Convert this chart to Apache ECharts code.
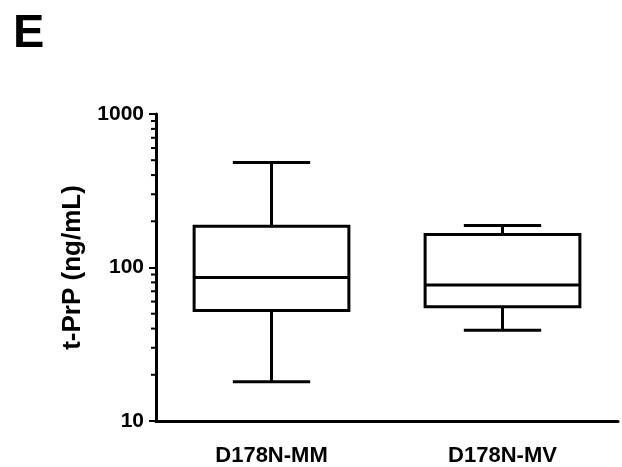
<!DOCTYPE html>
<html>
<head>
<meta charset="utf-8">
<script src="https://cdn.jsdelivr.net/npm/echarts@6/dist/echarts.min.js"></script>
<style>
  html, body { margin: 0; padding: 0; background: #fff; }
  #chart { width: 622px; height: 467px; }
</style>
</head>
<body>
<div id="chart"></div>
<script>
// 分组
const categories = ['D178N-MM', 'D178N-MV']
// 箱线图数值: [min, Q1, median, Q3, max]
const boxMin = [18, 39]
const boxQ1 = [52.5, 55.5]
const boxMedian = [86, 77]
const boxQ3 = [186, 164]
const boxMax = [484, 188]
// 对数轴次刻度
const minorTicks = [20, 30, 40, 50, 60, 70, 80, 90, 200, 300, 400, 500, 600, 700, 800, 900]

const boxData = categories.map((c, i) => [i, boxMin[i], boxQ1[i], boxMedian[i], boxQ3[i], boxMax[i]])

const chart = echarts.init(document.getElementById('chart'))
const LW = 3
const lineStyle = { stroke: '#000', lineWidth: LW, fill: null }

chart.setOption({
  animation: false,
  title: {
    text: 'E',
    left: 8,
    top: 6,
    textStyle: { fontFamily: 'Liberation Sans', fontSize: 47, fontWeight: 'bold', color: '#000' }
  },
  grid: { left: 156, right: 4, top: 114, bottom: 46 },
  xAxis: {
    type: 'category',
    data: categories,
    axisLine: { lineStyle: { color: '#000', width: LW } },
    axisTick: { alignWithLabel: true, length: 6, lineStyle: { color: '#000', width: 2 } },
    axisLabel: {
      margin: 24,
      color: '#000',
      fontFamily: 'Liberation Sans',
      fontWeight: 'bold',
      fontSize: 22
    },
    splitLine: { show: false }
  },
  yAxis: {
    type: 'log',
    logBase: 10,
    min: 10,
    max: 1000,
    name: 't-PrP (ng/mL)',
    nameLocation: 'middle',
    nameGap: 70,
    nameTextStyle: { color: '#000', fontFamily: 'Liberation Sans', fontWeight: 'bold', fontSize: 26 },
    axisLine: { show: true, lineStyle: { color: '#000', width: LW } },
    axisTick: { show: true, length: 7, lineStyle: { color: '#000', width: 2 } },
    axisLabel: {
      margin: 12,
      color: '#000',
      fontFamily: 'Liberation Sans',
      fontWeight: 'bold',
      fontSize: 21,
      formatter: (v) => String(Math.round(v))
    },
    splitLine: { show: false }
  },
  series: [
    {
      // 箱体
      type: 'custom',
      data: boxData,
      z: 3,
      renderItem: (params, api) => {
        const x = api.value(0)
        const band = api.size([1, 1], [x, 100])[0]
        const half = band * 0.335
        const cap = half / 2
        const pLo = api.coord([x, api.value(1)])
        const pQ1 = api.coord([x, api.value(2)])
        const pMed = api.coord([x, api.value(3)])
        const pQ3 = api.coord([x, api.value(4)])
        const pHi = api.coord([x, api.value(5)])
        const cx = pMed[0]
        const line = (x1, y1, x2, y2) => ({
          type: 'line',
          shape: { x1, y1, x2, y2 },
          style: lineStyle
        })
        return {
          type: 'group',
          children: [
            {
              type: 'rect',
              shape: { x: cx - half, y: pQ3[1], width: half * 2, height: pQ1[1] - pQ3[1] },
              style: lineStyle
            },
            line(cx - half, pMed[1], cx + half, pMed[1]),
            line(cx, pQ3[1], cx, pHi[1]),
            line(cx, pQ1[1], cx, pLo[1]),
            line(cx - cap, pHi[1], cx + cap, pHi[1]),
            line(cx - cap, pLo[1], cx + cap, pLo[1])
          ]
        }
      }
    },
    {
      // 次刻度
      type: 'custom',
      data: minorTicks.map(v => [0, v]),
      z: 2,
      renderItem: (params, api) => {
        const p = api.coord([0, api.value(1)])
        const x0 = params.coordSys.x
        return {
          type: 'line',
          shape: { x1: x0 - 5, y1: p[1], x2: x0, y2: p[1] },
          style: { stroke: '#000', lineWidth: 2 }
        }
      }
    }
  ]
})
</script>
</body>
</html>
